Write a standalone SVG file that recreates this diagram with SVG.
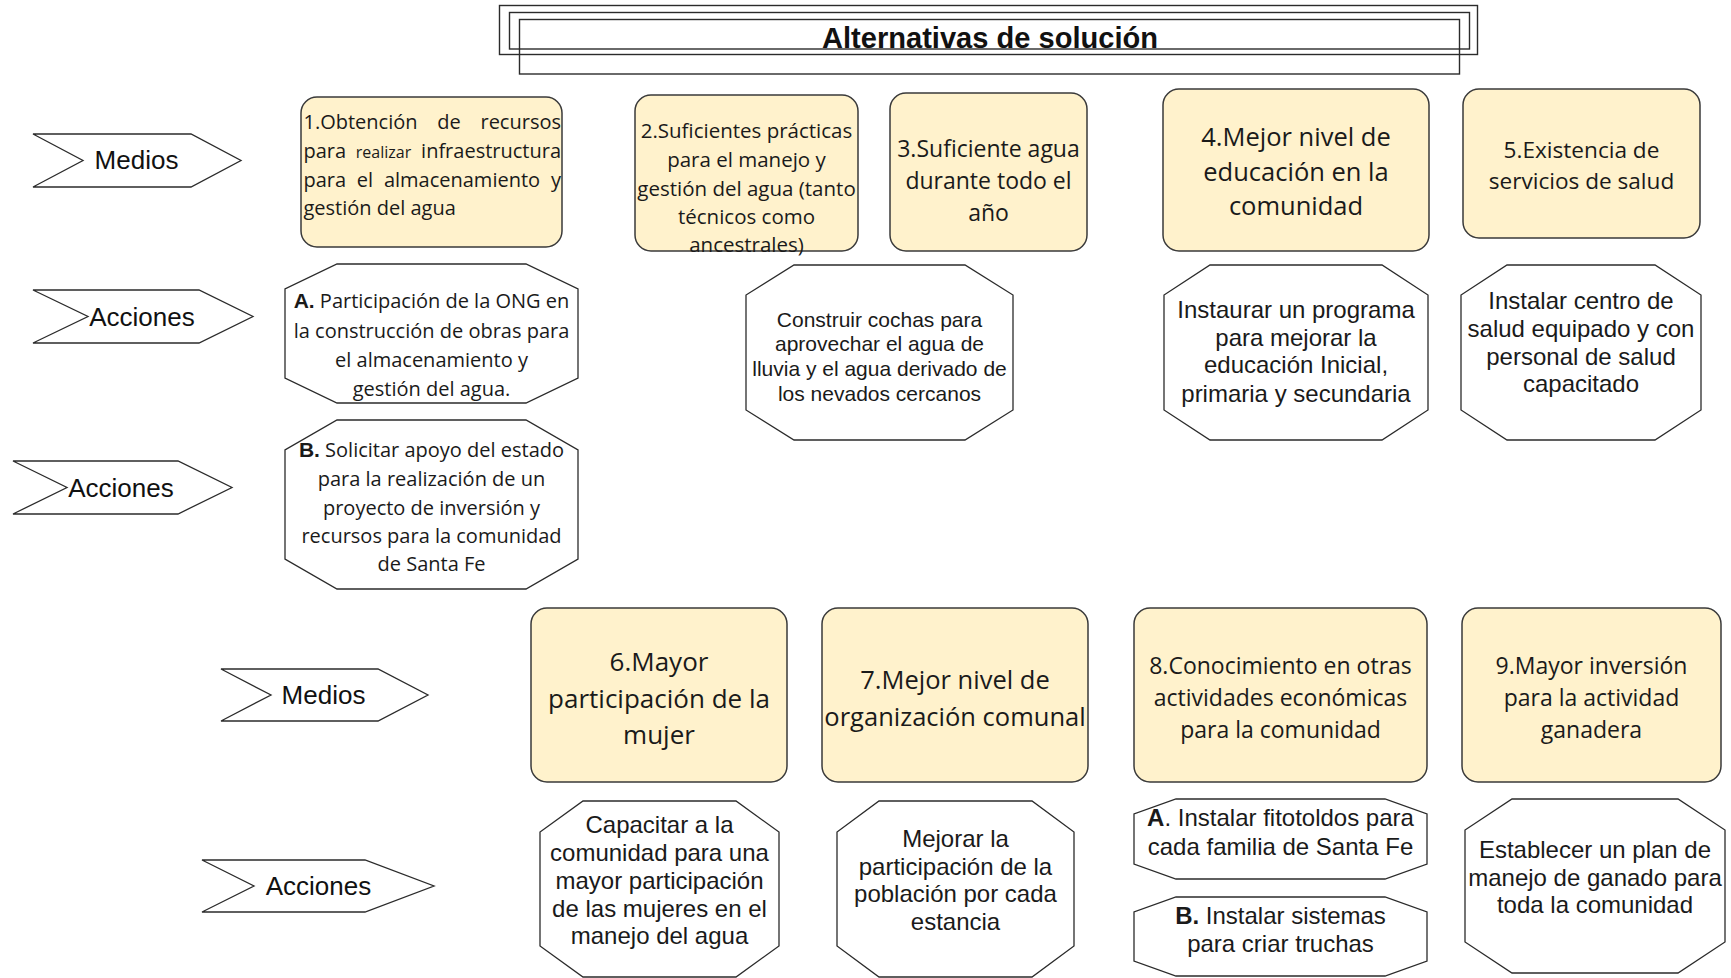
<svg xmlns="http://www.w3.org/2000/svg" width="1731" height="978" viewBox="0 0 1731 978">
<style>
.bg{fill:#ffffff}
.frame{fill:none;stroke:#2b2b2b;stroke-width:1.4}
.medio{fill:#FFF2CC;stroke:#3a3a3a;stroke-width:1.5}
.oct{fill:#ffffff;stroke:#2b2b2b;stroke-width:1.3}
.arrow{fill:#ffffff;stroke:#2b2b2b;stroke-width:1.3}
.lbl{font-family:"Liberation Sans",Arial,sans-serif;font-size:26px;fill:#111;text-anchor:middle}
.os{font-family:"Open Sans","Noto Sans",sans-serif;fill:#1a1a1a;text-anchor:middle}
.ar{font-family:"Liberation Sans",Arial,sans-serif;fill:#1a1a1a;text-anchor:middle}
.b{font-family:"Liberation Sans",Arial,sans-serif;font-weight:bold}
.title{font-family:"Liberation Sans",Arial,sans-serif;font-weight:bold;font-size:29px;fill:#111;text-anchor:middle}
</style>
<rect class="bg" x="0" y="0" width="1731" height="978"/>

<g id="title">
  <rect class="frame" x="499.5" y="5.5" width="978" height="49"/>
  <rect class="frame" x="509.5" y="12.5" width="960" height="36.5"/>
  <rect class="frame" x="519.5" y="19.5" width="940" height="54.5"/>
  <text class="title" x="990" y="48" textLength="336" lengthAdjust="spacingAndGlyphs">Alternativas de solución</text>
</g>

<g id="connectors"></g>

<!-- Row labels -->
<g id="lbl-medios-1">
  <polygon class="arrow" points="33,134 191,134 241,160.5 191,187 33,187 83,160.5"/>
  <text class="lbl" x="136.5" y="169">Medios</text>
</g>
<g id="lbl-acciones-1">
  <polygon class="arrow" points="33,290 199,290 253,316.5 199,343 33,343 88,316.5"/>
  <text class="lbl" x="142" y="326">Acciones</text>
</g>
<g id="lbl-acciones-2">
  <polygon class="arrow" points="13,461 178,461 232,487.5 178,514 13,514 67,487.5"/>
  <text class="lbl" x="121" y="497">Acciones</text>
</g>
<g id="lbl-medios-2">
  <polygon class="arrow" points="221,669 378,669 428,695 378,721 221,721 271,695"/>
  <text class="lbl" x="323.5" y="704">Medios</text>
</g>
<g id="lbl-acciones-3">
  <polygon class="arrow" points="202,860 365,860 434,886 365,912 202,912 254,886"/>
  <text class="lbl" x="318.5" y="895">Acciones</text>
</g>

<!-- Medios row 1 -->
<g id="medio-1">
  <rect class="medio" x="301" y="97" width="261" height="150" rx="16"/>
  <g font-family="Open Sans, Noto Sans, sans-serif" font-size="20" fill="#1a1a1a">
    <text x="303.5" y="129">1.Obtención</text>
    <text x="449" y="129" text-anchor="middle">de</text>
    <text x="561" y="129" text-anchor="end">recursos</text>
    <text x="303.5" y="158">para</text>
    <text x="383.5" y="158" text-anchor="middle" font-size="16">realizar</text>
    <text x="561" y="158" text-anchor="end">infraestructura</text>
    <text x="303.5" y="187">para</text>
    <text x="365" y="187" text-anchor="middle">el</text>
    <text x="462" y="187" text-anchor="middle">almacenamiento</text>
    <text x="561" y="187" text-anchor="end">y</text>
    <text x="303.5" y="214.5">gestión del agua</text>
  </g>
</g>
<g id="medio-2">
  <rect class="medio" x="635" y="95" width="223" height="156" rx="16"/>
  <text class="os" font-size="20.5"><tspan x="746.5" y="137.5">2.Suficientes prácticas</tspan><tspan x="746.5" y="166.5">para el manejo y</tspan><tspan x="746.5" y="195.5">gestión del agua (tanto</tspan><tspan x="746.5" y="223.5">técnicos como</tspan><tspan x="746.5" y="251.5">ancestrales)</tspan></text>
</g>
<g id="medio-3">
  <rect class="medio" x="890" y="93" width="197" height="158" rx="16"/>
  <text class="os" font-size="23"><tspan x="988.5" y="157">3.Suficiente agua</tspan><tspan x="988.5" y="189">durante todo el</tspan><tspan x="988.5" y="221">año</tspan></text>
</g>
<g id="medio-4">
  <rect class="medio" x="1163" y="89" width="266" height="162" rx="16"/>
  <text class="os" font-size="25.5"><tspan x="1296" y="146">4.Mejor nivel de</tspan><tspan x="1296" y="181">educación en la</tspan><tspan x="1296" y="215">comunidad</tspan></text>
</g>
<g id="medio-5">
  <rect class="medio" x="1463" y="89" width="237" height="149" rx="16"/>
  <text class="os" font-size="22.6"><tspan x="1581.5" y="158">5.Existencia de</tspan><tspan x="1581.5" y="189">servicios de salud</tspan></text>
</g>

<!-- Acciones row 1 -->
<g id="accion-1A">
  <polygon class="oct" points="337,264 526,264 578,289 578,378 526,403 337,403 285,378 285,289"/>
  <text class="os" font-size="20"><tspan x="431.5" y="308"><tspan class="b" font-size="21">A.</tspan> Participación de la ONG en</tspan><tspan x="431.5" y="338">la construcción de obras para</tspan><tspan x="431.5" y="367">el almacenamiento y</tspan><tspan x="431.5" y="395.5">gestión del agua.</tspan></text>
</g>
<g id="accion-1B">
  <polygon class="oct" points="337,420 526,420 578,450 578,559 526,589 337,589 285,559 285,450"/>
  <text class="os" font-size="20"><tspan x="431.5" y="457"><tspan class="b" font-size="21">B.</tspan> Solicitar apoyo del estado</tspan><tspan x="431.5" y="486">para la realización de un</tspan><tspan x="431.5" y="515">proyecto de inversión y</tspan><tspan x="431.5" y="542.5">recursos para la comunidad</tspan><tspan x="431.5" y="571">de Santa Fe</tspan></text>
</g>
<g id="accion-3">
  <polygon class="oct" points="794,265 965,265 1013,295 1013,410 965,440 794,440 746,410 746,295"/>
  <text class="ar" font-size="21"><tspan x="879.5" y="326.5">Construir cochas para</tspan><tspan x="879.5" y="350.5">aprovechar el agua de</tspan><tspan x="879.5" y="375.5">lluvia y el agua derivado de</tspan><tspan x="879.5" y="400.5">los nevados cercanos</tspan></text>
</g>
<g id="accion-4">
  <polygon class="oct" points="1210,265 1382,265 1428,295 1428,410 1382,440 1210,440 1164,410 1164,295"/>
  <text class="ar" font-size="24"><tspan x="1296" y="318">Instaurar un programa</tspan><tspan x="1296" y="346">para mejorar la</tspan><tspan x="1296" y="373">educación Inicial,</tspan><tspan x="1296" y="402">primaria y secundaria</tspan></text>
</g>
<g id="accion-5">
  <polygon class="oct" points="1507,265 1655,265 1701,295 1701,410 1655,440 1507,440 1461,410 1461,295"/>
  <text class="ar" font-size="24"><tspan x="1581" y="309">Instalar centro de</tspan><tspan x="1581" y="337">salud equipado y con</tspan><tspan x="1581" y="365">personal de salud</tspan><tspan x="1581" y="392">capacitado</tspan></text>
</g>

<!-- Medios row 2 -->
<g id="medio-6">
  <rect class="medio" x="531" y="608" width="256" height="174" rx="16"/>
  <text class="os" font-size="26"><tspan x="659" y="671">6.Mayor</tspan><tspan x="659" y="708">participación de la</tspan><tspan x="659" y="744">mujer</tspan></text>
</g>
<g id="medio-7">
  <rect class="medio" x="822" y="608" width="266" height="174" rx="16"/>
  <text class="os" font-size="25.5"><tspan x="955" y="689">7.Mejor nivel de</tspan><tspan x="955" y="725.5">organización comunal</tspan></text>
</g>
<g id="medio-8">
  <rect class="medio" x="1134" y="608" width="293" height="174" rx="16"/>
  <text class="os" font-size="23"><tspan x="1280.5" y="674">8.Conocimiento en otras</tspan><tspan x="1280.5" y="706">actividades económicas</tspan><tspan x="1280.5" y="738">para la comunidad</tspan></text>
</g>
<g id="medio-9">
  <rect class="medio" x="1462" y="608" width="259" height="174" rx="16"/>
  <text class="os" font-size="23"><tspan x="1591.5" y="674">9.Mayor inversión</tspan><tspan x="1591.5" y="706">para la actividad</tspan><tspan x="1591.5" y="738">ganadera</tspan></text>
</g>

<!-- Acciones row 2 -->
<g id="accion-6">
  <polygon class="oct" points="583,801 736,801 779,832 779,946 736,977 583,977 540,946 540,832"/>
  <text class="ar" font-size="24"><tspan x="659.5" y="833">Capacitar a la</tspan><tspan x="659.5" y="861">comunidad para una</tspan><tspan x="659.5" y="889">mayor participación</tspan><tspan x="659.5" y="917">de las mujeres en el</tspan><tspan x="659.5" y="944">manejo del agua</tspan></text>
</g>
<g id="accion-7">
  <polygon class="oct" points="879,801 1032,801 1074,832 1074,946 1032,977 879,977 837,946 837,832"/>
  <text class="ar" font-size="24"><tspan x="955.5" y="847">Mejorar la</tspan><tspan x="955.5" y="875">participación de la</tspan><tspan x="955.5" y="902">población por cada</tspan><tspan x="955.5" y="930">estancia</tspan></text>
</g>
<g id="accion-8A">
  <polygon class="oct" points="1176,799 1385,799 1427,814 1427,864 1385,879 1176,879 1134,864 1134,814"/>
  <text class="ar" font-size="24"><tspan x="1280.5" y="826"><tspan font-weight="bold">A</tspan>. Instalar fitotoldos para</tspan><tspan x="1280.5" y="855">cada familia de Santa Fe</tspan></text>
</g>
<g id="accion-8B">
  <polygon class="oct" points="1176,897 1385,897 1427,912 1427,961 1385,976 1176,976 1134,961 1134,912"/>
  <text class="ar" font-size="24"><tspan x="1280.5" y="924"><tspan font-weight="bold">B.</tspan> Instalar sistemas</tspan><tspan x="1280.5" y="952">para criar truchas</tspan></text>
</g>
<g id="accion-9">
  <polygon class="oct" points="1512,799 1678,799 1725,830 1725,942 1678,973 1512,973 1465,942 1465,830"/>
  <text class="ar" font-size="24"><tspan x="1595" y="858">Establecer un plan de</tspan><tspan x="1595" y="886">manejo de ganado para</tspan><tspan x="1595" y="913">toda la comunidad</tspan></text>
</g>
</svg>
